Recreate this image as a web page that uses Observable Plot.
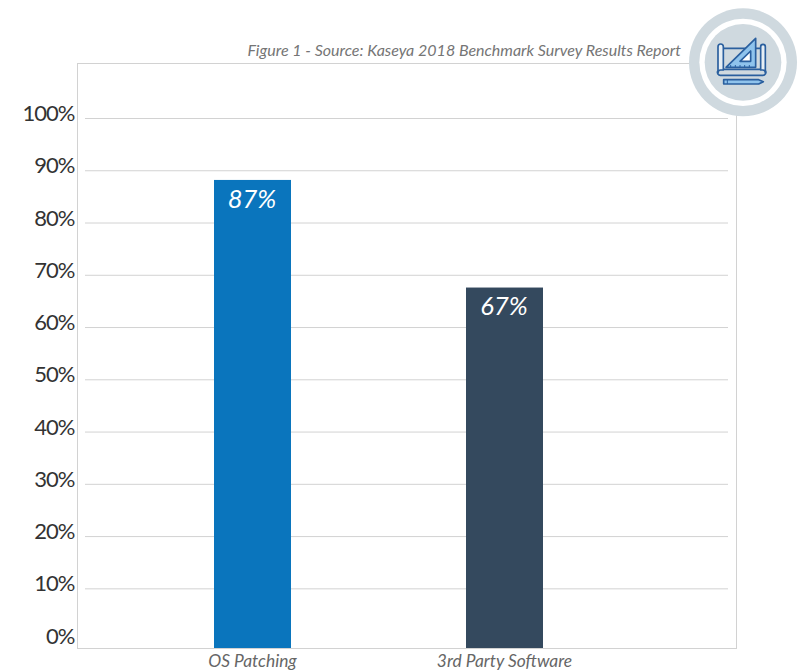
<!DOCTYPE html>
<html>
<head>
<meta charset="utf-8">
<script src="https://cdn.jsdelivr.net/npm/d3@7"></script>
<script src="https://cdn.jsdelivr.net/npm/@observablehq/plot@0.6"></script>
<style>
  html, body { margin: 0; background: #fff; overflow: hidden; }
  #chart { position: relative; width: 800px; height: 670px; font-family: Lato, sans-serif; }
  #chart > svg { position: absolute; left: 0; top: 0; }
  #source { position: absolute; right: 119px; top: 40px; font: italic 16px Lato, sans-serif; color: #757575; white-space: nowrap; }
</style>
</head>
<body>
<div id="chart">
  <div id="source"></div>
</div>
<script>
// Survey results
const categories = ["OS Patching", "3rd Party Software"];
const percents = [87, 67];
const barColors = ["#0a75bd", "#34495e"];
const axisTicks = [0, 10, 20, 30, 40, 50, 60, 70, 80, 90, 100];
const gridTicks = [10, 20, 30, 40, 50, 60, 70, 80, 90, 100];
const sourceNote = "Figure 1 - Source: Kaseya 2018 Benchmark Survey Results Report";

const rows = categories.map((category, i) => ({category, percent: percents[i], color: barColors[i]}));
const frameMargins = {marginTop: 63, marginRight: 64, marginBottom: 22, marginLeft: 77};
const size = {width: 800, height: 670};

// Backdrop: frame, gridlines and percentage axis
const backdrop = Plot.plot({
  ...size,
  ...frameMargins,
  style: {background: "transparent", fontFamily: "Lato, sans-serif", letterSpacing: "-1px"},
  y: {domain: [0, 100], range: [640.6, 118]},
  marks: [
    Plot.gridY(gridTicks, {stroke: "#d2d2d2", strokeOpacity: 1, insetLeft: 8, insetRight: 8}),
    Plot.frame({stroke: "#d2d2d2"}),
    Plot.axisY(axisTicks, {
      anchor: "left",
      label: null,
      tickSize: 0,
      tickPadding: 3,
      dy: -4.5,
      fontSize: 22,
      fill: "#333333",
      tickFormat: d => `${d}%`
    })
  ]
});

// Foreground: value bars, their labels and the category axis
const bars = Plot.plot({
  ...size,
  ...frameMargins,
  style: {background: "transparent", fontFamily: "Lato, sans-serif"},
  x: {domain: categories, range: [126.5, 630.5], paddingInner: 0.694, paddingOuter: 0.347},
  y: {domain: [0, 100], range: [648, 110], axis: null},
  marks: [
    Plot.barY(rows, {x: "category", y: "percent", fill: d => d.color}),
    Plot.text(rows, {
      x: "category",
      y: "percent",
      text: d => `${d.percent}%`,
      dy: 19,
      dx: -1,
      fill: "white",
      fontSize: 25.5,
      fontStyle: "italic"
    }),
    Plot.axisX({
      anchor: "bottom",
      label: null,
      tickSize: 0,
      tickPadding: 6,
      dx: -0.5,
      fontSize: 17.4,
      fontStyle: "italic",
      fill: "#666666"
    })
  ]
});

const chart = document.getElementById("chart");
document.getElementById("source").textContent = sourceNote;
chart.prepend(backdrop);
chart.append(bars);

// Blueprint badge in the top-right corner
chart.insertAdjacentHTML("beforeend", `
<svg width="140" height="130" viewBox="0 0 420 390" style="left:660px;top:0" fill="none" stroke="#2a5f9e" stroke-width="5" stroke-linejoin="round">
  <circle cx="249" cy="187" r="162" fill="#cfd9df" stroke="none"/>
  <circle cx="249" cy="187" r="131" fill="#fff" stroke="none"/>
  <circle cx="249" cy="187" r="115" fill="#cfd9df" stroke="none"/>
  <path d="M188 145H303M188 208H303" />
  <path d="M174 140a8 8 0 0 1 16 0V210H182a8 8 0 0 0-8 8Z" fill="#e6eef4"/>
  <path d="M302 140a7 7 0 0 1 14 0V218a8 8 0 0 0-8-8H302Z" fill="#e6eef4"/>
  <path d="M174 212a9 9 0 0 0 9 14H308a9 9 0 0 0 8-14" />
  <path d="M198 202L287 115V202Z" fill="#8fc3ec"/>
  <path d="M240 184L272 153V184Z" fill="#fff"/>
  <path d="M212 202v-7M226 202v-7M240 202v-7M254 202v-7M268 202v-7" stroke-width="3"/>
  <path d="M191 239H296L310 245L296 252H191Z" fill="#8fc3ec"/>
  <path d="M202 239V252" stroke-width="3"/>
</svg>`);
</script>
</body>
</html>
